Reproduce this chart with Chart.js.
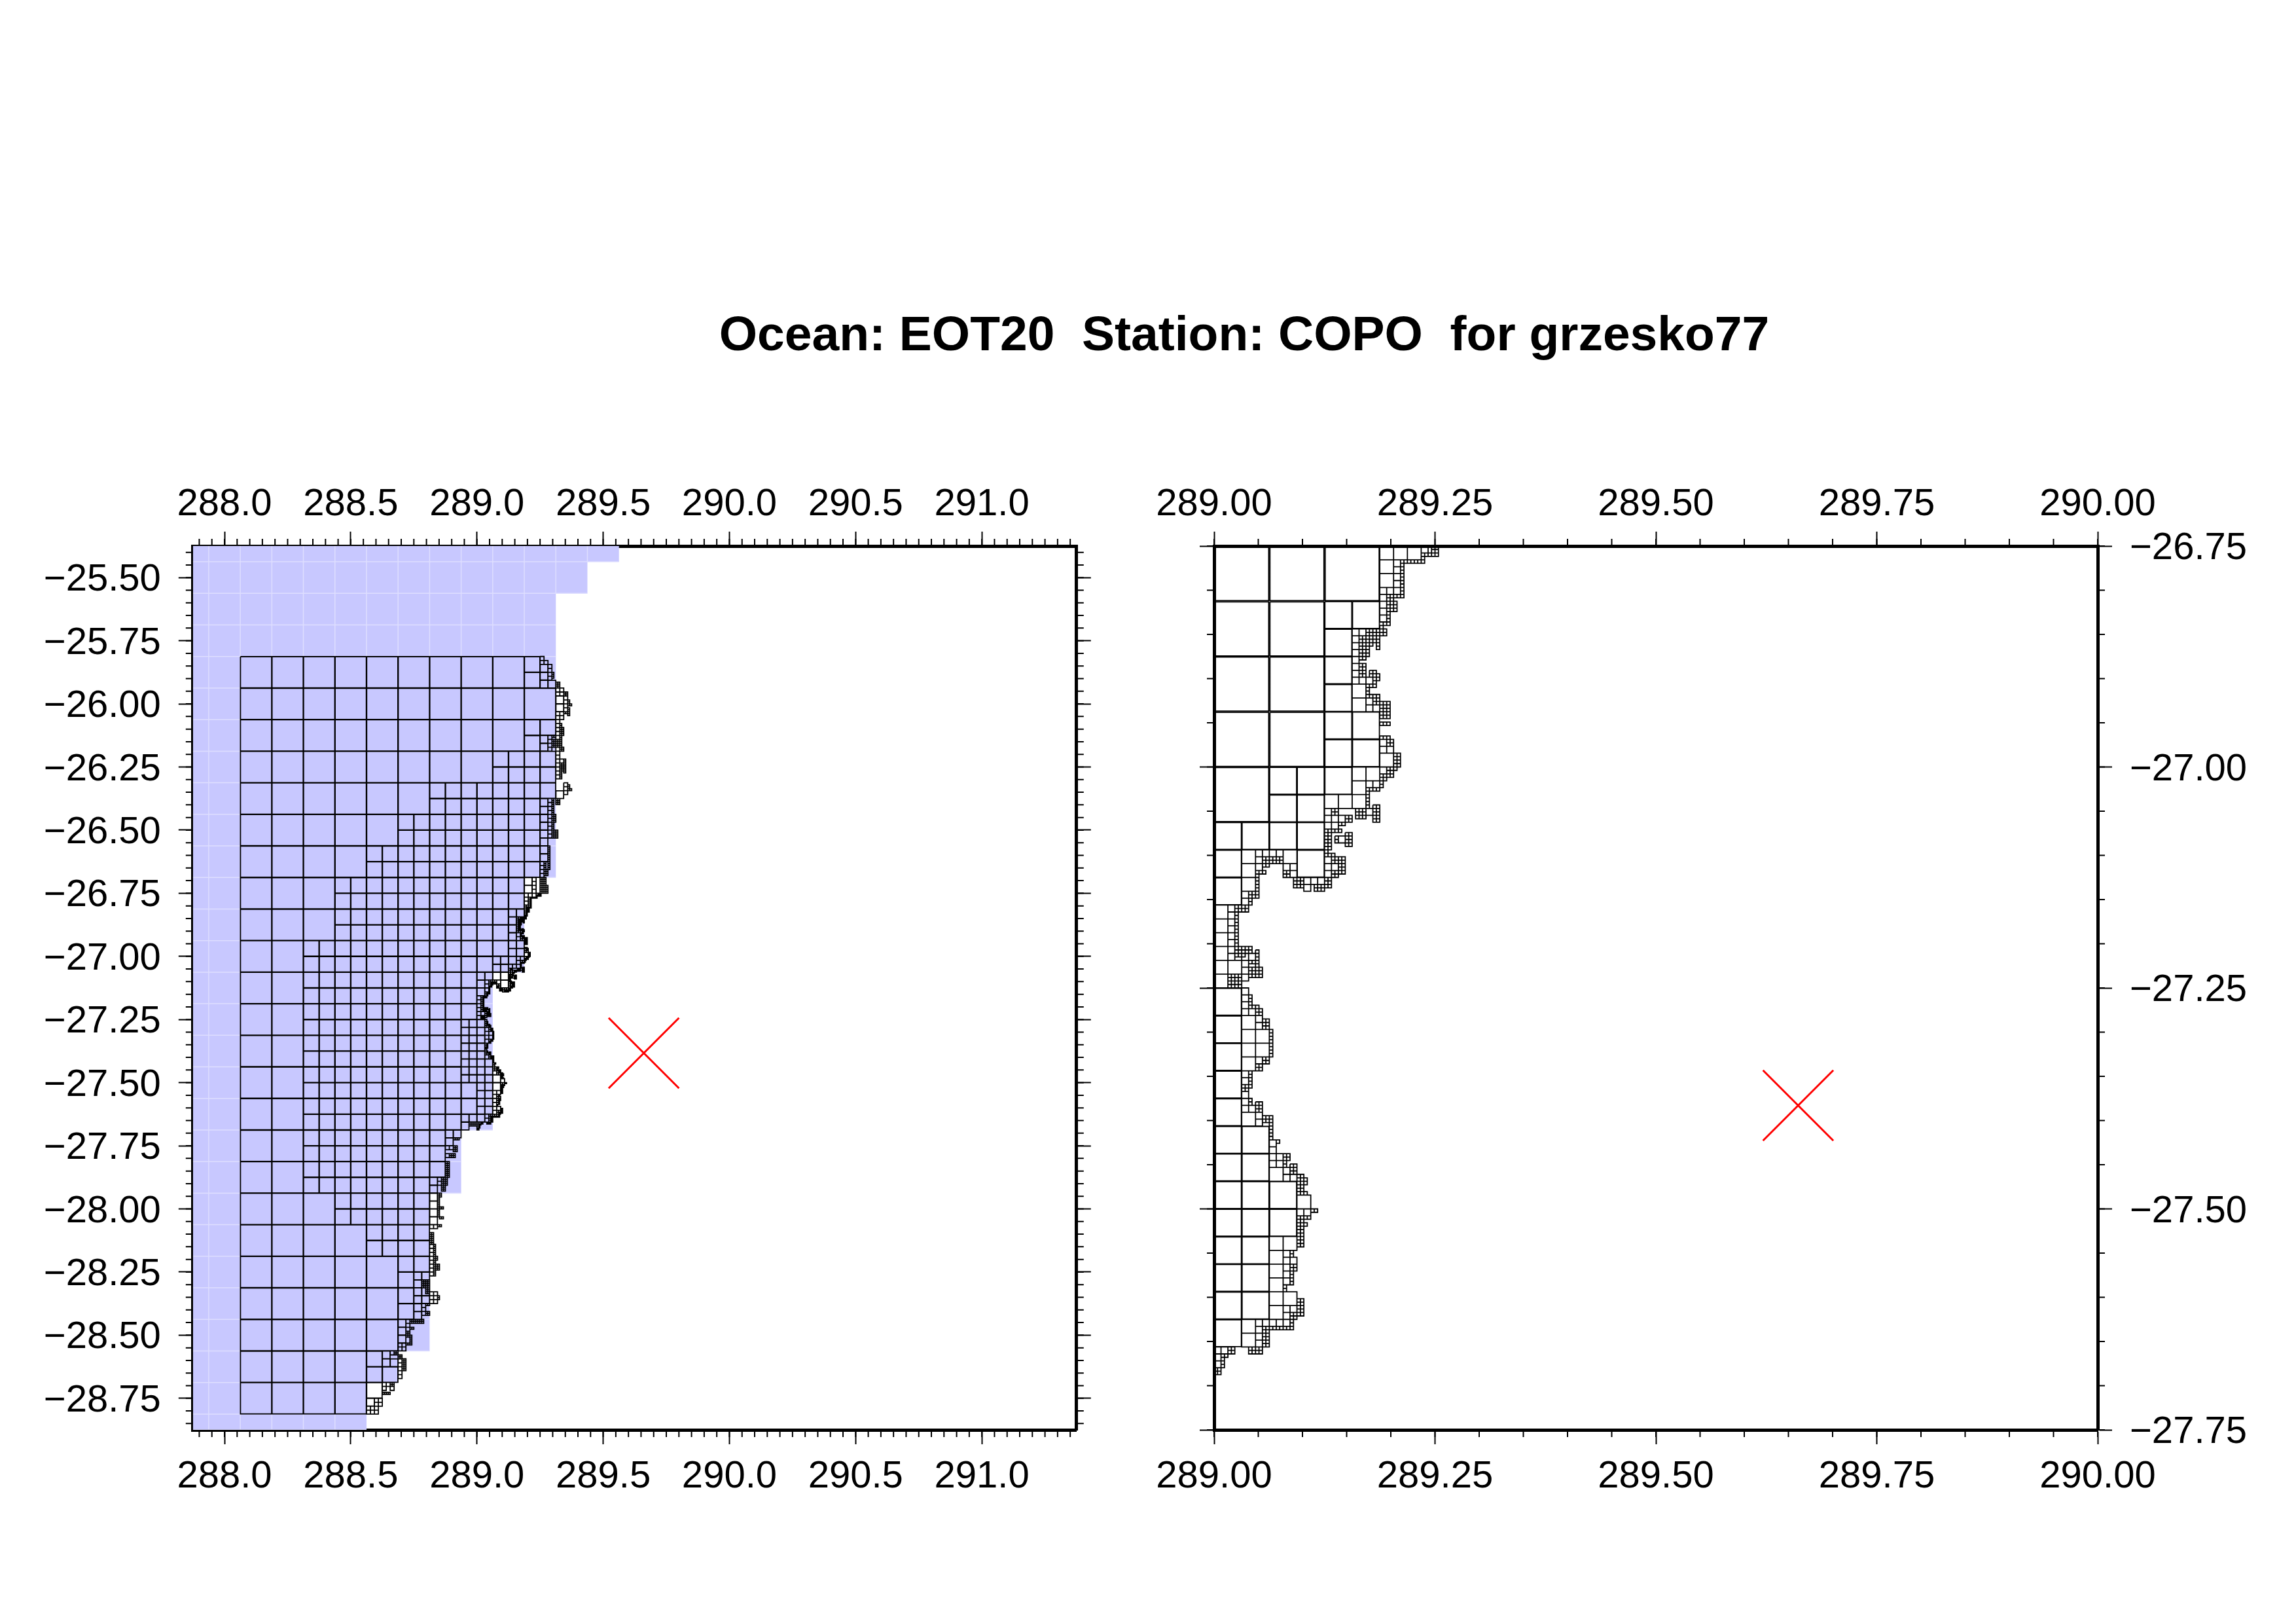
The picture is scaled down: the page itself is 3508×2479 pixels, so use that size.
<!DOCTYPE html>
<html>
<head>
<meta charset="utf-8">
<title>COPO mesh</title>
<script src="https://cdn.jsdelivr.net/npm/chart.js@4/dist/chart.umd.min.js"></script>
<style>
  html, body { margin: 0; background: #fff; }
  #title {
    position: absolute; left: 0; width: 3802px; top: 466px; text-align: center;
    font: bold 75px "Liberation Sans", sans-serif; white-space: pre; color: #000;
  }
  canvas { position: absolute; top: 0; }
</style>
</head>
<body>
<div id="title">Ocean: EOT20  Station: COPO  for grzesko77</div>
<canvas id="leftPanel" width="1750" height="2479" style="left:0"></canvas>
<canvas id="rightPanel" width="1758" height="2479" style="left:1750px"></canvas>
<script>
// axis ranges and ticks
const leftXRange = [287.875, 291.375];
const leftYRange = [-28.875, -25.375];
const rightXRange = [289, 290];
const rightYRange = [-27.75, -26.75];
const leftXTicks = [288.0, 288.5, 289.0, 289.5, 290.0, 290.5, 291.0];
const leftYTicks = [-25.5, -25.75, -26, -26.25, -26.5, -26.75, -27, -27.25, -27.5, -27.75, -28, -28.25, -28.5, -28.75];
const rightXTicks = [289, 289.25, 289.5, 289.75, 290];
const rightYTicks = [-26.75, -27, -27.25, -27.5, -27.75];

// station
const stationLon = 289.661;
const stationLat = -27.383;

// blue background: row edges (lat) and the east end of each row (lon)
const blueRowTops = [-25.375, -25.4375, -25.5625, -25.6875, -25.8125, -25.9375, -26.0625, -26.1875, -26.3125, -26.4375, -26.5625, -26.6875, -26.8125, -26.9375, -27.0625, -27.1875, -27.3125, -27.4375, -27.5625, -27.6875, -27.8125, -27.9375, -28.0625, -28.1875, -28.3125, -28.4375, -28.5625, -28.6875, -28.8125];
const blueRowEast = [289.5625, 289.4375, 289.3125, 289.3125, 289.3125, 289.3125, 289.3125, 289.3125, 289.3125, 289.3125, 289.3125, 289.1875, 289.1875, 289.1875, 289.0625, 289.0625, 289.0625, 289.0625, 289.0625, 288.9375, 288.9375, 288.8125, 288.8125, 288.8125, 288.8125, 288.8125, 288.6875, 288.5625, 288.5625];
const blueColLons = [287.9375, 288.0625, 288.1875, 288.3125, 288.4375, 288.5625, 288.6875, 288.8125, 288.9375, 289.0625, 289.1875, 289.3125, 289.4375];

// mesh, in cells of 1/256 deg counted from 289E, 26.75S
// number of 0.125 deg cells in each row, from 288.0625E, 25.8125S
const coarseCounts = [9, 10, 9, 8, 6, 5, 4, 3, 3, 2, 2, 2, 2, 2, 2, 2, 2, 3, 4, 5, 5, 5, 4, 4];
// east end of the 0.0625 deg cells in each half row
const fineEnds = [64, 64, 80, 80, 80, 64, 80, 80, 80, 64, 64, 64, 64, 64, 48, 48, 32, 32, 32, 16, 0, 0, 0, -16, -16, -16, -16, 0, 0, -16, -32, -32, -32, -48, -48, -48, -48, -48, -48, -64, -64, -64, -80, -80, -96, -80, -96, -112];
// blocks of smaller cells: [i, j, columns, rows]
const blocks8 = [[32,16,2,1],[32,24,1,1],[32,32,1,1],[32,40,1,1],[32,48,2,1],[32,56,2,1],[16,64,2,2],[32,64,1,1],[0,80,4,1],[0,88,1,1],[24,88,1,1],[0,96,1,1],[0,128,1,13],[8,168,1,7],[16,184,1,2],[-16,128,2,8],
  [64,-232,1,1],[64,-224,1,1],[64,-216,2,1],[80,-200,1,2],[64,-160,1,2],[64,-96,1,2],[64,-80,1,4],[64,-48,1,2],[48,-16,1,2],[80,-104,1,1],
  [-16,224,2,1],[-16,232,1,1],[-32,240,2,1],[-32,248,1,1],
  [-48,288,1,2],[-48,304,1,4],[-64,384,2,1],[-64,392,1,1],[-56,400,1,2],[-64,400,1,2],[-64,416,1,2],[-80,432,1,4],[-96,464,1,2],[-88,472,1,1],[-112,512,1,1]];
const blocks4 = [[48,0,3,1],[48,4,1,2],[40,40,1,2],[48,60,1,1],[40,64,2,1],[40,68,1,1],[32,72,2,1],[40,72,1,1],[8,88,1,3],[20,88,1,1],[0,104,1,6],[4,120,1,1],[8,136,1,4],[12,140,1,2],[8,164,1,1],[16,180,1,1],[24,188,1,1],[16,200,2,1],[16,204,1,1],[16,208,1,1],[16,212,1,1],[16,216,2,1],[16,220,1,1],[8,224,1,2],
  [64,-240,1,1],[64,-236,2,1],[72,-232,1,2],[72,-224,1,2],[80,-208,2,2],[88,-200,1,4],[80,-184,2,2],[72,-160,1,4],[80,-176,1,4],[80,-160,1,4],[80,-144,1,7],[84,-136,1,1],[88,-112,1,3],[72,-96,1,4],[72,-80,1,6],[64,-32,1,4],[56,-16,1,4],
  [-32,256,2,1],[-32,264,1,1],[-40,288,1,2],[-48,336,2,1],[-48,356,1,7],[-48,384,1,1],[-48,404,2,3],[-56,416,1,3],[-72,432,1,3],[-80,456,2,2],[-88,464,1,1],[-80,472,1,5],[-96,496,2,1],[-96,500,1,1],[-88,500,1,1],[-104,512,2,2],[-112,520,3,2]];
const blocks2 = [[60,0,2,1],[52,4,1,5],[48,12,2,1],[48,14,1,4],[40,24,2,1],[40,26,1,6],[40,38,3,1],[44,44,1,2],[46,46,1,1],[48,56,1,2],[50,58,1,1],[48,64,1,1],[44,68,2,1],[32,76,1,1],[32,78,3,1],[32,80,2,1],[36,84,1,1],[32,90,1,3],[34,92,1,1],[44,76,1,1],[12,88,4,1],[12,90,1,2],[20,92,1,1],[22,92,1,2],[26,96,3,1],[26,98,1,1],[8,100,1,2],[4,104,1,8],[6,118,3,1],[8,120,1,2],[8,124,1,1],[8,128,1,4],[10,134,1,1],[12,136,1,2],[12,148,1,1],[8,152,1,2],[8,158,1,3],[10,162,1,1],[12,164,1,2],[16,172,1,2],[16,176,2,2],[20,180,1,2],[22,182,1,1],[24,192,2,1],[20,204,1,2],[22,206,1,1],[20,208,1,3],[20,220,2,1],[20,222,1,1],[12,224,5,1],[12,226,1,3],[0,232,2,1],[0,234,1,2],
  [76,-224,1,3],[80,-214,2,3],[88,-204,2,2],[92,-196,1,2],[92,-192,2,1],[92,-188,1,4],[88,-184,2,1],[76,-156,5,4],[76,-160,2,1],[76,-152,2,2],[84,-172,1,8],[86,-168,1,4],[84,-148,2,2],[84,-132,2,4],[84,-124,1,4],[88,-136,1,7],[92,-110,1,2],[92,-106,2,1],[80,-96,2,3],[76,-96,1,8],[78,-80,1,4],[76,-80,1,8],[76,-64,3,4],[72,-48,1,12],[68,-32,1,4],[68,-24,2,3],[64,-16,3,4],[64,-8,4,4],
  [-8,232,4,2],[-24,248,3,1],[-24,256,2,3],[-28,264,3,2],[-32,272,2,8],[-36,288,3,2],[-36,292,3,2],[-36,296,2,3],[-40,304,2,2],[-40,308,1,10],[-38,318,2,1],[-38,328,2,1],[-40,336,2,1],[-48,344,2,3],[-48,350,2,3],[-44,356,1,6],[-44,364,1,10],[-42,368,1,2],[-42,376,2,3],[-44,384,1,2],[-56,392,4,4],[-52,400,2,3],[-40,408,1,2],[-52,416,2,1],[-52,424,2,2],[-68,432,7,2],[-68,440,2,1],[-72,444,2,3],[-68,448,1,4],[-72,456,3,1],[-84,464,2,2],[-80,468,2,2],[-76,472,2,6],[-88,496,2,2],[-96,506,4,1]];
const blocks1 = [[54,4,7,1],[60,3,1,1],[61,2,4,1],[63,0,2,2],[54,5,1,10],[52,14,2,1],[50,14,2,2],[50,16,3,3],[50,19,1,3],[49,22,2,1],[48,23,1,1],[44,24,6,2],[42,26,3,2],[45,26,3,2],[47,28,1,2],[42,28,3,2],[45,28,1,1],[42,30,3,2],[42,32,2,1],[42,34,2,2],[42,36,2,2],[45,36,2,2],[47,37,1,2],[44,40,2,1],[46,39,1,2],[44,41,1,3],[45,43,3,1],[46,44,2,2],[48,45,3,5],[48,51,3,1],[48,55,3,1],[50,56,2,2],[52,60,2,4],[50,64,3,1],[50,65,2,2],[48,66,3,1],[48,67,2,1],[48,68,1,2],[44,70,4,1],[44,71,1,1],
  [44,72,1,4],[41,76,3,3],[46,75,2,5],[34,76,2,2],[38,78,2,2],[36,80,2,1],[32,82,2,2],[34,82,3,1],[38,83,2,4],[35,84,1,2],[32,84,2,4],[32,88,1,1],[32,89,3,1],[34,90,4,2],[36,92,2,2],[36,94,2,1],[34,94,2,2],[23,96,3,3],[32,96,2,3],[29,98,3,2],[14,90,6,2],[14,92,2,1],[20,94,2,2],[12,94,3,1],[12,95,1,7],[10,100,3,2],[10,102,1,2],[6,104,4,2],[6,106,1,10],[6,116,3,3],[9,116,2,2],[12,117,1,5],[10,120,3,1],[10,122,4,3],[4,124,4,4],[10,130,1,3],[10,133,3,1],[12,134,2,2],[14,137,2,3],[16,140,1,8],[14,148,2,2],[12,150,2,2],[10,152,1,5],[8,156,2,2],[10,160,1,2],[12,161,2,3],[14,165,3,2],[16,167,1,5],[18,172,1,1],[20,176,2,2],[20,178,1,2],[22,179,2,3],[24,182,2,6],[26,183,1,2],[26,187,1,1],[28,192,2,1],[24,194,2,9],[26,194,2,1],[26,196,1,1],[22,204,1,2],[22,208,2,2],[22,210,1,4],[20,214,1,2],[24,218,2,5],[22,222,2,2],[22,224,1,3],[14,226,9,1],[14,227,2,5],[10,232,4,2],[4,232,2,2],[2,234,2,1],[2,235,1,3],[0,238,2,2]];

const toLon = i => 289 + i / 256;
const toLat = j => -26.75 - j / 256;

// one cell outline, pulled in a little so that large neighbours show a double edge
function addCell(pts, i, j, size, inset) {
  const x0 = toLon(i) + inset, x1 = toLon(i + size) - inset;
  const y0 = toLat(j) - inset, y1 = toLat(j + size) + inset;
  pts.push({x: x0, y: y0}, {x: x1, y: y0}, {x: x1, y: y1}, {x: x0, y: y1}, {x: x0, y: y0}, {x: NaN, y: NaN});
}

function meshPoints() {
  const pts = [];
  coarseCounts.forEach((n, row) => {
    for (let k = 0; k < n; k++) addCell(pts, -240 + 32 * k, -240 + 32 * row, 32, 0.0007);
  });
  fineEnds.forEach((end, half) => {
    const start = -240 + 32 * coarseCounts[Math.floor(half / 2)];
    for (let i = start; i < end; i += 16) addCell(pts, i, -240 + 16 * half, 16, 0.0007);
  });
  [[blocks8, 8, 0.0004], [blocks4, 4, 0], [blocks2, 2, 0], [blocks1, 1, 0]].forEach(([list, size, inset]) => {
    list.forEach(([i, j, cols, rows]) => {
      for (let r = 0; r < rows; r++) {
        for (let c = 0; c < cols; c++) addCell(pts, i + c * size, j + r * size, size, inset);
      }
    });
  });
  return pts;
}

function bluePolygon() {
  const pts = [{x: leftXRange[0], y: blueRowTops[0]}];
  blueRowEast.forEach((east, n) => {
    pts.push({x: east, y: blueRowTops[n]}, {x: east, y: n + 1 < blueRowTops.length ? blueRowTops[n + 1] : leftYRange[0]});
  });
  pts.push({x: leftXRange[0], y: leftYRange[0]}, {x: leftXRange[0], y: blueRowTops[0]});
  return pts;
}

function blueGridLines() {
  const pts = [];
  blueRowEast.forEach((east, n) => {
    const bottom = n + 1 < blueRowTops.length ? blueRowTops[n + 1] : leftYRange[0];
    pts.push({x: leftXRange[0], y: bottom}, {x: east, y: bottom}, {x: NaN, y: NaN});
    blueColLons.filter(lon => lon < east).forEach(lon => {
      pts.push({x: lon, y: blueRowTops[n]}, {x: lon, y: bottom}, {x: NaN, y: NaN});
    });
  });
  return pts;
}

const minorStep = 0.05;
const font = {family: '"Liberation Sans", sans-serif', size: 58};

function minorTicks(range) {
  const vals = [];
  for (let n = Math.ceil(range[0] / minorStep - 1e-6); n * minorStep <= range[1] + 1e-6; n++) vals.push(n * minorStep);
  return vals;
}

const minorTickPlugin = {
  id: 'minorTicks',
  afterDraw(chart) {
    const {ctx, chartArea: a} = chart;
    const len = 11;
    ctx.save();
    ctx.strokeStyle = '#000';
    ctx.lineWidth = 2;
    ctx.beginPath();
    Object.values(chart.scales).forEach(s => {
      minorTicks([s.min, s.max]).forEach(v => {
        const p = s.getPixelForValue(v);
        if (s.axis === 'x') {
          const y = s.position === 'top' ? a.top : a.bottom;
          ctx.moveTo(p, y);
          ctx.lineTo(p, s.position === 'top' ? y - len : y + len);
        } else {
          const x = s.position === 'left' ? a.left : a.right;
          ctx.moveTo(x, p);
          ctx.lineTo(s.position === 'left' ? x - len : x + len, p);
        }
      });
    });
    ctx.stroke();
    ctx.restore();
  }
};

function axis(position, range, ticks, digits, showLabels, size) {
  const horizontal = position === 'top' || position === 'bottom';
  const labelGap = {top: 6, bottom: 15, left: 27, right: 27}[position];
  return {
    type: 'linear',
    display: true,
    position,
    min: range[0],
    max: range[1],
    afterBuildTicks: s => { s.ticks = ticks.map(v => ({value: v})); },
    afterFit: s => { if (horizontal) s.height = size; else s.width = size; },
    border: {display: true, color: '#000', width: 5},
    grid: {drawOnChartArea: false, drawTicks: true, tickLength: 22, tickWidth: 2, tickColor: '#000'},
    ticks: {
      display: showLabels,
      color: '#000',
      font,
      padding: labelGap,
      labelOffset: horizontal ? 0 : 4,
      autoSkip: false,
      maxRotation: 0,
      minRotation: 0,
      callback: v => Number(v).toFixed(digits).replace('-', '\u2212')
    }
  };
}

function makePanel(id, xRange, yRange, xTicks, yTicks, xDigits, yDigits, labelsLeft, withBlue, padding) {
  const datasets = [
    {type: 'scatter', data: [{x: stationLon, y: stationLat}], pointStyle: 'crossRot', pointRadius: 76, borderColor: '#ff0000', pointBorderColor: '#ff0000', pointBorderWidth: 3, showLine: false, order: 0},
    // the long dash keeps the sub-pixel positions of the double edges
    {type: 'scatter', data: meshPoints(), showLine: true, borderColor: '#000', borderWidth: 1.8, borderDash: [100000, 1], pointRadius: 0, spanGaps: false, order: 1}
  ];
  if (withBlue) {
    datasets.push({type: 'scatter', data: blueGridLines(), showLine: true, borderColor: '#dedeff', borderWidth: 1.5, pointRadius: 0, spanGaps: false, order: 2});
    datasets.push({type: 'scatter', data: bluePolygon(), showLine: true, borderWidth: 0, borderColor: '#c8c8ff', backgroundColor: '#c8c8ff', fill: 'shape', pointRadius: 0, order: 3});
  }
  return new Chart(document.getElementById(id), {
    type: 'scatter',
    data: {datasets},
    options: {
      responsive: false,
      animation: false,
      devicePixelRatio: 1,
      events: [],
      layout: {padding},
      plugins: {legend: {display: false}, title: {display: false}, tooltip: {enabled: false}},
      scales: {
        x: axis('bottom', xRange, xTicks, xDigits, true, 100),
        xTop: axis('top', xRange, xTicks, xDigits, true, 100),
        y: axis('left', yRange, yTicks, yDigits, labelsLeft, labelsLeft ? 250 : 24),
        yRight: axis('right', yRange, yTicks, yDigits, !labelsLeft, labelsLeft ? 24 : 250)
      }
    },
    plugins: [minorTickPlugin]
  });
}

makePanel('leftPanel', leftXRange, leftYRange, leftXTicks, leftYTicks, 1, 2, true, true,
  {left: 44.8, right: 81.2, top: 734, bottom: 195});
makePanel('rightPanel', rightXRange, rightYRange, rightXTicks, rightYTicks, 2, 2, false, false,
  {left: 81, right: 53, top: 734, bottom: 195});
</script>
</body>
</html>
